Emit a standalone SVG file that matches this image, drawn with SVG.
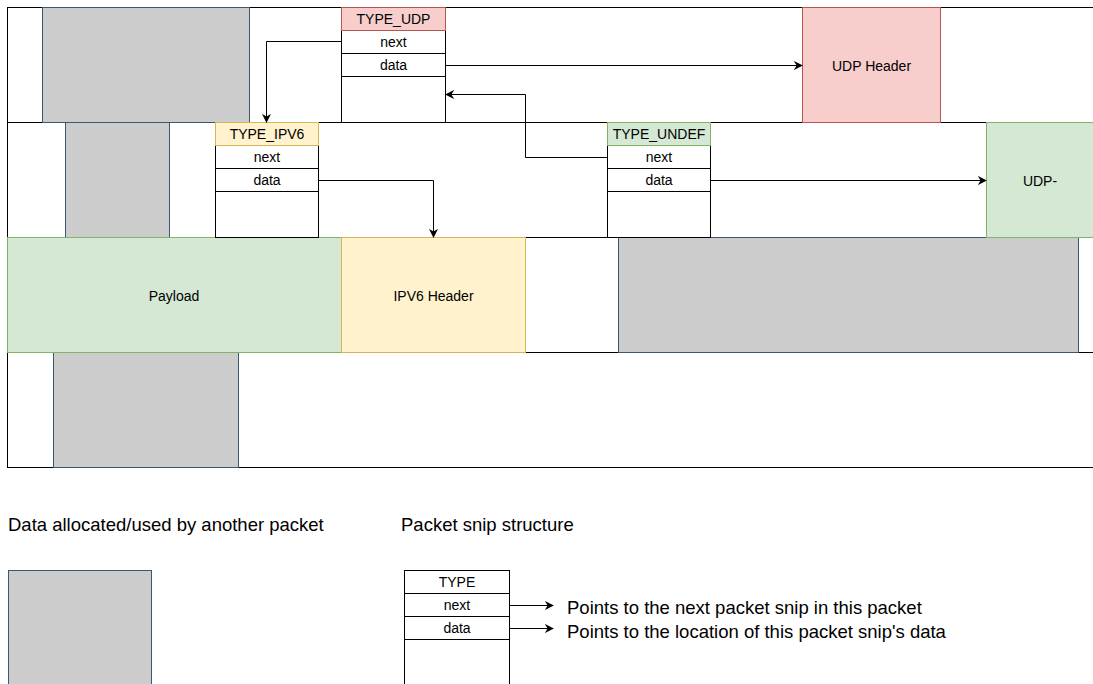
<svg xmlns="http://www.w3.org/2000/svg" width="1093" height="684" viewBox="0 0 1093 684">
<defs>
<marker id="ah" viewBox="0 0 10 10" refX="9" refY="5" markerWidth="9" markerHeight="9" markerUnits="userSpaceOnUse" orient="auto">
<path d="M0,0 L10,5 L0,10 L3,5 Z" fill="#000"/>
</marker>
<style>
text{font-family:"Liberation Sans",Arial,sans-serif;fill:#000;}
.s{font-size:14px;text-anchor:middle;dominant-baseline:central;}
.l{font-size:18.5px;}
.row{fill:#fff;stroke:#000;stroke-width:1;}
.gray{fill:#cccccc;stroke:#3b5770;stroke-width:1;}
.cell{fill:#fff;stroke:#000;stroke-width:1;}
.red{fill:#f8cecc;stroke:#b85450;stroke-width:1;}
.yel{fill:#fff2cc;stroke:#d6b656;stroke-width:1;}
.grn{fill:#d5e8d4;stroke:#82b366;stroke-width:1;}
.c{fill:none;stroke:#000;stroke-width:1;marker-end:url(#ah);}
</style>
</defs>

<g id="rows">
<rect class="row" x="7.5" y="7.5" width="1100" height="115"/>
<rect class="row" x="7.5" y="122.5" width="1100" height="115"/>
<rect class="row" x="7.5" y="237.5" width="1100" height="115"/>
<rect class="row" x="7.5" y="352.5" width="1100" height="115"/>
</g>

<g id="data-blocks">
<rect class="gray" x="42.5" y="7.5" width="207" height="115"/>
<rect class="gray" x="65.5" y="122.5" width="104" height="115"/>
<rect class="gray" x="618.5" y="237.5" width="460" height="115"/>
<rect class="gray" x="53.5" y="352.5" width="185" height="115"/>
</g>

<g id="udp-header">
<rect class="red" x="802.5" y="7.5" width="138" height="115"/>
<text class="s" x="871.5" y="66">UDP Header</text>
</g>
<g id="udp-minus">
<rect class="grn" x="986.5" y="122.5" width="120" height="115"/>
<text class="s" x="1040" y="181">UDP-</text>
</g>
<g id="payload">
<rect class="grn" x="7.5" y="237.5" width="334" height="115"/>
<text class="s" x="174" y="296">Payload</text>
</g>
<g id="ipv6-header">
<rect class="yel" x="341.5" y="237.5" width="184" height="115"/>
<text class="s" x="433.5" y="296">IPV6 Header</text>
</g>

<g id="snip-udp">
<rect class="cell" x="341.5" y="30.5" width="104" height="92"/>
<rect class="red" x="341.5" y="7.5" width="104" height="23"/>
<line x1="341.5" y1="53.5" x2="445.5" y2="53.5" stroke="#000"/>
<line x1="341.5" y1="76.5" x2="445.5" y2="76.5" stroke="#000"/>
<text class="s" x="393.5" y="19">TYPE_UDP</text>
<text class="s" x="393.5" y="42">next</text>
<text class="s" x="393.5" y="65">data</text>
</g>

<g id="snip-ipv6">
<rect class="cell" x="215.5" y="145.5" width="103" height="92"/>
<rect class="yel" x="215.5" y="122.5" width="103" height="23"/>
<line x1="215.5" y1="168.5" x2="318.5" y2="168.5" stroke="#000"/>
<line x1="215.5" y1="191.5" x2="318.5" y2="191.5" stroke="#000"/>
<text class="s" x="267" y="134">TYPE_IPV6</text>
<text class="s" x="267" y="157">next</text>
<text class="s" x="267" y="180">data</text>
</g>

<g id="snip-undef">
<rect class="cell" x="607.5" y="145.5" width="103" height="92"/>
<rect class="grn" x="607.5" y="122.5" width="103" height="23"/>
<line x1="607.5" y1="168.5" x2="710.5" y2="168.5" stroke="#000"/>
<line x1="607.5" y1="191.5" x2="710.5" y2="191.5" stroke="#000"/>
<text class="s" x="659" y="134">TYPE_UNDEF</text>
<text class="s" x="659" y="157">next</text>
<text class="s" x="659" y="180">data</text>
</g>

<g id="connectors">
<path class="c" d="M341.5,41.5 H266.5 V122"/>
<path class="c" d="M445.5,65.5 H802"/>
<path class="c" d="M607.5,157.5 H525.5 V94.5 H446"/>
<path class="c" d="M318.5,180.5 H433.5 V237"/>
<path class="c" d="M710.5,180.5 H986"/>
<path class="c" d="M509.5,605.5 H553"/>
<path class="c" d="M509.5,628.5 H553"/>
</g>

<g id="legend-other">
<text class="l" x="8" y="531">Data allocated/used by another packet</text>
<rect class="gray" x="8.5" y="570.5" width="143" height="130"/>
</g>

<g id="legend-snip">
<text class="l" x="401" y="531">Packet snip structure</text>
<rect class="cell" x="404.5" y="570.5" width="105" height="130"/>
<line x1="404.5" y1="593.5" x2="509.5" y2="593.5" stroke="#000"/>
<line x1="404.5" y1="616.5" x2="509.5" y2="616.5" stroke="#000"/>
<line x1="404.5" y1="639.5" x2="509.5" y2="639.5" stroke="#000"/>
<text class="s" x="457" y="582">TYPE</text>
<text class="s" x="457" y="605">next</text>
<text class="s" x="457" y="628">data</text>
<text class="l" x="567" y="614">Points to the next packet snip in this packet</text>
<text class="l" x="567" y="638">Points to the location of this packet snip's data</text>
</g>
</svg>
